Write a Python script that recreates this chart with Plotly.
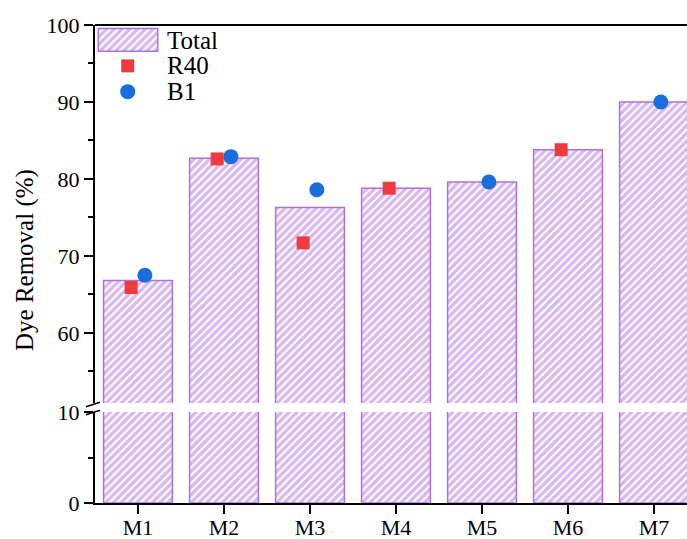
import plotly.graph_objects as go

# ---- data -------------------------------------------------------------
categories = ["M1", "M2", "M3", "M4", "M5", "M6", "M7"]
total = [66.8, 82.7, 76.3, 78.8, 79.6, 83.8, 90.0]
r40 = [65.9, 82.6, 71.7, 78.8, None, 83.8, None]
b1 = [67.5, 82.9, 78.6, None, 79.6, None, 90.0]

upper_ticks = [60, 70, 80, 90, 100]
upper_minor = [55, 65, 75, 85, 95]
lower_ticks = [0, 10]
lower_minor = [5]

# ---- style -------------------------------------------------------------
FONT = "Liberation Serif, Times New Roman, serif"
PURPLE = "#AD70E2"
RED = "#EF3B3D"
BLUE = "#1A6EDC"
W, H = 687, 539
ML, MR, MT, MB = 95, 0, 25, 36
PW, PH = W - ML - MR, H - MT - MB

UPPER_DOMAIN = [(H - MB - 403) / PH, 1.0]
LOWER_DOMAIN = [0.0, (H - MB - 412) / PH]
UPPER_RANGE = [50.9, 100]
LOWER_RANGE = [0, 10]
X_RANGE = [-0.5, -0.5 + PW / 86.0]
SHIFT = 0.08  # side-by-side offset of the two dye markers

idx = list(range(len(categories)))

pattern = dict(shape="/", fgcolor=PURPLE, bgcolor="white", size=5.5, solidity=0.6)
bar_marker = dict(color="white", pattern=pattern, line=dict(color=PURPLE, width=1.5))

fig = go.Figure()
# bars drawn once in each half of the broken axis
for yax in ("y", "y2"):
    fig.add_trace(go.Bar(x=idx, y=total, xaxis="x", yaxis=yax, width=0.8,
                         marker=bar_marker, showlegend=False, hoverinfo="skip"))


def points(values, shift):
    xs = [i + shift for i, v in zip(idx, values) if v is not None]
    ys = [v for v in values if v is not None]
    return xs, ys


rx, ry = points(r40, -SHIFT)
bx, by = points(b1, SHIFT)
fig.add_trace(go.Scatter(x=rx, y=ry, mode="markers", xaxis="x", yaxis="y",
                         marker=dict(symbol="square", size=13, color=RED),
                         showlegend=False))
fig.add_trace(go.Scatter(x=bx, y=by, mode="markers", xaxis="x", yaxis="y",
                         marker=dict(symbol="circle", size=15, color=BLUE),
                         showlegend=False))

# ---- hand-built legend (pixel frame overlay) --------------------------
legend_swatch = dict(cx=128, top=29.3, bottom=58.3, width=59.4)
legend_rows = [("Total", 44), ("R40", 76.7), ("B1", 109.3)]
legend_marker_x = 127.7
legend_text_x = 165

fig.add_trace(go.Bar(
    x=[legend_swatch["cx"]], y=[legend_swatch["bottom"] - legend_swatch["top"]],
    base=[legend_swatch["top"]], width=[legend_swatch["width"]],
    xaxis="x3", yaxis="y3", marker=bar_marker, showlegend=False, hoverinfo="skip"))
fig.add_trace(go.Scatter(x=[legend_marker_x], y=[legend_rows[1][1]], mode="markers",
                         xaxis="x3", yaxis="y3", showlegend=False,
                         marker=dict(symbol="square", size=13, color=RED)))
fig.add_trace(go.Scatter(x=[legend_marker_x], y=[legend_rows[2][1]], mode="markers",
                         xaxis="x3", yaxis="y3", showlegend=False,
                         marker=dict(symbol="circle", size=15, color=BLUE)))

annotations = [
    dict(text=label, x=legend_text_x, y=ypix, xref="x3", yref="y3",
         xanchor="left", yanchor="middle", showarrow=False,
         font=dict(family=FONT, size=25, color="black"))
    for label, ypix in legend_rows
]
annotations.append(dict(
    text="Dye Removal (%)", x=(25 - ML) / PW, y=(H - MB - 260) / PH,
    xref="paper", yref="paper", textangle=-90, showarrow=False,
    xanchor="center", yanchor="middle",
    font=dict(family=FONT, size=25, color="black")))


def px(xp, yp):
    return (xp - ML) / PW, (H - MB - yp) / PH


shapes = []
# axis break marks
for yc in (404.5, 412.5):
    x0, y0 = px(86, yc + 2.3)
    x1, y1 = px(100, yc - 2.3)
    shapes.append(dict(type="line", xref="paper", yref="paper",
                       x0=x0, y0=y0, x1=x1, y1=y1,
                       line=dict(color="black", width=1.5)))
# top frame line
shapes.append(dict(type="line", xref="paper", yref="paper", x0=0, x1=1, y0=1, y1=1,
                   line=dict(color="black", width=2)))

tickfont = dict(family=FONT, size=22, color="black")
axis_common = dict(showline=True, linecolor="black", linewidth=2,
                   ticks="outside", ticklen=9, tickwidth=1.5, tickcolor="black",
                   showgrid=False, zeroline=False, tickfont=tickfont,
                   automargin=False)

fig.update_layout(
    width=W, height=H,
    margin=dict(l=ML, r=MR, t=MT, b=MB),
    paper_bgcolor="white", plot_bgcolor="white",
    barmode="overlay",
    showlegend=False,
    xaxis=dict(domain=[0, 1], anchor="y2", range=X_RANGE,
               tickmode="array", tickvals=idx, ticktext=categories,
               ticklabelstandoff=-5,
               **axis_common),
    yaxis=dict(domain=UPPER_DOMAIN, anchor="x", range=UPPER_RANGE,
               tickmode="array", tickvals=upper_ticks,
               minor=dict(tickmode="array", tickvals=upper_minor, ticks="outside",
                          ticklen=5, tickwidth=1.5, tickcolor="black"),
               **axis_common),
    yaxis2=dict(domain=LOWER_DOMAIN, anchor="x", range=LOWER_RANGE,
                tickmode="array", tickvals=lower_ticks,
                minor=dict(tickmode="array", tickvals=lower_minor, ticks="outside",
                           ticklen=5, tickwidth=1.5, tickcolor="black"),
                **axis_common),
    xaxis3=dict(domain=[0, 1], anchor="y3", range=[ML, W - MR], visible=False,
                overlaying="x"),
    yaxis3=dict(domain=[0, 1], anchor="x3", range=[H - MB, MT], visible=False,
                overlaying="y"),
    annotations=annotations,
    shapes=shapes,
)

fig.write_html("out.html")
